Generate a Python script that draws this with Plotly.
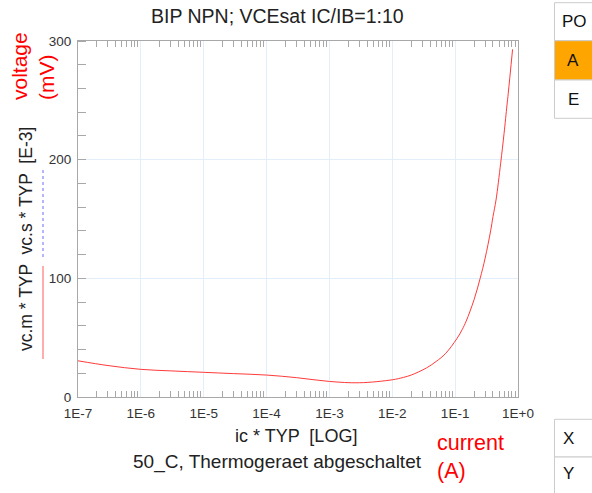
import plotly.graph_objects as go

# ---- data ----
ic = [1e-7, 3e-7, 1e-6, 3e-6, 1e-5, 3e-5, 1e-4, 3e-4, 1e-3, 3e-3, 1e-2, 1.5e-2,
      2e-2, 3.5e-2, 5e-2, 7e-2, 0.106, 0.13, 0.15, 0.2, 0.25, 0.3, 0.367,
      0.4, 0.447, 0.53, 0.6, 0.668, 0.7, 0.82]
vc_m = [30.5, 26.5, 23.3, 22.0, 20.8, 19.7, 18.5, 16.3, 13.1, 12.0, 14.5, 16.5,
        18.5, 24.5, 30.0, 36.5, 49.0, 57.0, 64.0, 82.0, 100.0, 117.0, 140.0,
        152.0, 166.0, 197.0, 222.0, 246.0, 256.0, 293.0]

x_tickvals = [1e-7, 1e-6, 1e-5, 1e-4, 1e-3, 1e-2, 1e-1, 1e0]
x_ticktext = ["1E-7", "1E-6", "1E-5", "1E-4", "1E-3", "1E-2", "1E-1", "1E+0"]
y_tickvals = [0, 100, 200, 300]
y_ticktext = ["0", "100", "200", "300"]
x_minor = [k * 10.0 ** e for e in range(-7, 0) for k in range(2, 10)]

title_text = "BIP NPN; VCEsat IC/IB=1:10"
xtitle_text = "ic * TYP  [LOG]"
sub_text = "50_C, Thermogeraet abgeschaltet"
ytitle_text = "vc.m * TYP  vc.s * TYP  [E-3]"

# ---- layout geometry (pixels) ----
W, H = 592, 493
L, R, T, B = 78, 518, 41, 397


def fx(px):
    return (px - L) / (R - L)


def fy(py):
    return (B - py) / (B - T)


FONT = "Liberation Sans, Arial, sans-serif"

fig = go.Figure()
fig.add_trace(go.Scatter(
    x=ic, y=vc_m, mode="lines",
    line=dict(color="#ff3a3a", width=1, shape="spline", smoothing=1.0),
    showlegend=False, hoverinfo="skip"))

fig.update_layout(
    width=W, height=H,
    margin=dict(l=L, r=W - R, t=T, b=H - B, pad=0),
    paper_bgcolor="white", plot_bgcolor="white",
    font=dict(family=FONT, size=14, color="#333"),
    showlegend=False,
)

fig.update_xaxes(
    type="log", range=[-7, 0],
    tickmode="array", tickvals=x_tickvals, ticktext=x_ticktext,
    ticks="", showgrid=True, gridcolor="#e2eefa", gridwidth=1,
    showline=True, linecolor="#a8a8a8", linewidth=1, mirror="ticks",
    zeroline=False, tickfont=dict(size=13.5, color="#333"),
    ticklabelstandoff=4,
    minor=dict(ticks="inside", ticklen=6, tickcolor="#a8a8a8", tickwidth=1,
               tickmode="array", tickvals=x_minor, showgrid=False),
)
fig.update_yaxes(
    range=[0, 300],
    tickmode="array", tickvals=y_tickvals, ticktext=y_ticktext,
    ticks="", showgrid=True, gridcolor="#e2eefa", gridwidth=1,
    showline=True, linecolor="#a8a8a8", linewidth=1, mirror=True,
    zeroline=False, tickfont=dict(size=13.5, color="#333"),
    ticklabelstandoff=3,
    minor=dict(ticks="inside", ticklen=8, tickcolor="#a8a8a8", tickwidth=1,
               dtick=20, showgrid=False),
)

ann = []


def add_text(text, px, py, size, color="#222", angle=0, align="center",
             xanchor="center", yanchor="middle"):
    ann.append(dict(text=text, x=fx(px), y=fy(py), xref="paper", yref="paper",
                    showarrow=False, textangle=angle, align=align,
                    xanchor=xanchor, yanchor=yanchor,
                    font=dict(family=FONT, size=size, color=color)))


add_text(title_text, 277, 16, 19.5)
add_text(xtitle_text, 296, 436, 18)
add_text(sub_text, 277, 462, 19)
add_text("current<br>(A)", 435, 457, 21.5, color="#ff0000", align="left",
         xanchor="left")
add_text("voltage<br>(mV)", 33, 66, 21, color="#ff0000", angle=-90,
         align="left")
add_text(ytitle_text, 26, 239, 17.5, angle=-90)

shapes = []
# legend swatches beside the y title
shapes.append(dict(type="line", xref="paper", yref="paper",
                   x0=fx(43), x1=fx(43), y0=fy(170), y1=fy(257),
                   line=dict(color="#6a6aff", width=1, dash="dot")))
shapes.append(dict(type="line", xref="paper", yref="paper",
                   x0=fx(43), x1=fx(43), y0=fy(266), y1=fy(359),
                   line=dict(color="#ff5a5a", width=1)))

# side buttons
buttons = [("PO", 2.7, 40.7, "white", 574), ("A", 40.7, 80, "#ffa500", 573),
           ("E", 80, 118.3, "white", 573), ("X", 419.3, 457, "white", 568),
           ("Y", 457, 496, "white", 568)]
for label, y0, y1, fill, cx in buttons:
    shapes.append(dict(type="rect", xref="paper", yref="paper",
                       x0=fx(554.5), x1=fx(600), y0=fy(y1), y1=fy(y0),
                       fillcolor=fill, line=dict(color="#cccccc", width=1),
                       layer="above"))
    add_text(label, cx, (y0 + y1) / 2 if label != "Y" else 474, 17, color="#111")

fig.update_layout(annotations=ann, shapes=shapes)
fig.write_html("out.html",
               config={"displayModeBar": False},
               post_script="document.body.style.margin='0';"
                           "document.body.style.overflow='hidden';")
